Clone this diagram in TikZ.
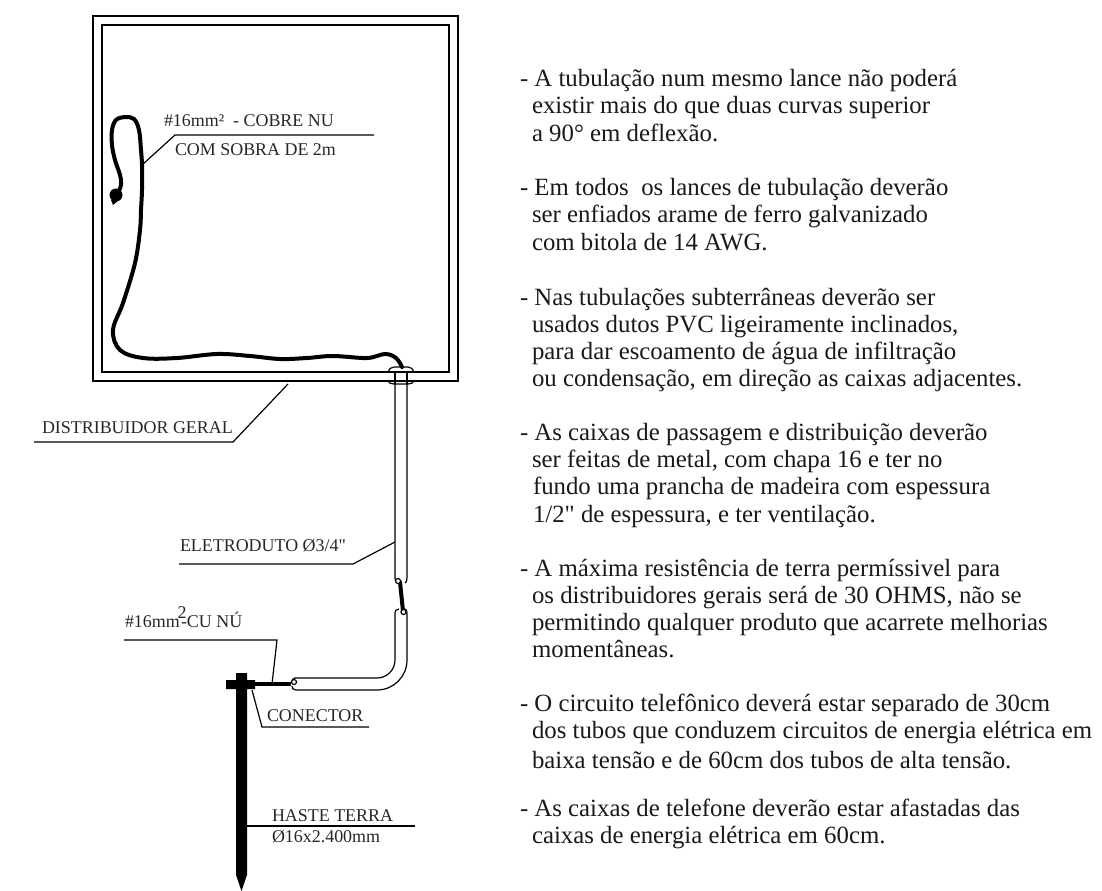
\documentclass[tikz,border=0pt]{standalone}
\usepackage{fontspec}
\setmainfont{Liberation Serif}[Ligatures=TeXOff]
\begin{document}
\begin{tikzpicture}[x=0.75pt,y=-0.75pt,
  line/.style={draw=black,line width=0.9pt},
  lead/.style={draw=black,line width=0.9pt},
  wire/.style={draw=black,line width=3pt,line cap=round,line join=round},
  lab/.style={anchor=base west,inner sep=0pt,outer sep=0pt,font=\fontsize{13.45pt}{15pt}\selectfont,text=black!85},
  note/.style={anchor=base west,inner sep=0pt,outer sep=0pt,font=\fontsize{18.6pt}{20pt}\selectfont,text=black!90}]
\useasboundingbox (0,0) rectangle (1102,891);
% boxes
\draw[line] (93,16) rectangle (458,381);
\draw[line] (102,25) rectangle (449,372);
% wire
\draw[wire] plot[smooth,tension=0.6] coordinates {(117,195)(121,185)(120,175)(115,160)(112,145)(112,130)(116,120)(125,117)(134,119)(139,130)(141,150)(142,165)(142,190)(141,210)(140,230)(135,263)(123,303)(113,330)(120,350)(143,358)(177,358)(217,354)(250,356)(280,359)(307,358)(333,356)(367,358)(385,354)(396,358)(402,367)};
\fill[black] (116,195) circle (6.5);
\fill[black] (111,200) -- (119,200) -- (113,205) -- cycle;
% clamp
\draw[line] (388,372) .. controls (389,369) and (391,367) .. (394,367) -- (408,367) .. controls (411,367) and (413,369) .. (414,372);
\draw[line] (388,381) .. controls (389,383) and (391,384) .. (394,384) -- (408,384) .. controls (411,384) and (413,383) .. (414,381);
\draw[line] (395,372) -- (395,384);
\draw[line] (407,372) -- (407,384);
% upper conduit
\draw[line] (395,384) -- (395,578) .. controls (395,581) and (396,583) .. (398,583);
\draw[line] (407,384) -- (407,578) .. controls (407,581) and (406,583) .. (405,583);
\draw[wire] (400,582) -- (403,611);
\draw[line,fill=white] (398,581) circle (2.5);
% lower conduit
\draw[line] (399,609) .. controls (396,609) and (395,611) .. (395,613) -- (395,660) arc (0:90:18) -- (295,678) .. controls (293,678) and (292,680) .. (292,682);
\draw[line] (405,609) .. controls (406,609) and (407,611) .. (407,613) -- (407,660) arc (0:90:30) -- (296,690) .. controls (293,690) and (292,688) .. (292,686);
\draw[line,fill=white] (403.5,612) circle (2.5);
% ground wire + rod
\draw[wire,line cap=butt] (291,684) -- (250,684);
\draw[line,fill=white] (294,682) circle (2.5);
\fill[black] (236,673) -- (247,673) -- (247,680) -- (255,680) -- (255,689) -- (247,689) -- (247,875) -- (241.5,891) -- (236,875) -- (236,689) -- (226,689) -- (226,680) -- (236,680) -- cycle;
% leaders
\draw[lead] (142,165) -- (175,135) -- (374,135);
\draw[lead] (395,542) -- (353,564) -- (179,564);
\draw[lead] (124,640) -- (277,640) -- (272,684);
\draw[lead] (252,690) -- (262,727) -- (369,727);
\draw[lead] (247,826) -- (415,826);
\draw[lead] (34,442) -- (233,442) -- (288,384);
% labels
\node[lab] (l1) at (164,127) {\#16mm²\ \ - COBRE NU};
\node[lab] (l2) at (175,156) {COM SOBRA DE 2m};
\node[lab] (l3) at (42,433) {DISTRIBUIDOR GERAL};
\node[lab] (l4) at (180,551) {ELETRODUTO Ø3/4"};
\node[lab] (l5a) at (125,627) {\#16mm};
\node[lab] (l5b) at (177.5,618) {2};
\node[lab] (l5c) at (181,627) {-CU NÚ};
\node[lab] (l6) at (267,721) {CONECTOR};
\node[lab] (l7) at (272,821) {HASTE TERRA};
\node[lab] (l8) at (272,842) {Ø16x2.400mm};
% notes
\node[note] (n1) at (520,87) {- A tubulação num mesmo lance não poderá};
\node[note] (n2) at (532,114) {existir mais do que duas curvas superior};
\node[note] (n3) at (532,142) {a 90° em deflexão.};
\node[note] (n4) at (520,196) {- Em todos\ \ os lances de tubulação deverão};
\node[note] (n5) at (532,223) {ser enfiados arame de ferro galvanizado};
\node[note] (n6) at (532,251) {com bitola de 14 AWG.};
\node[note] (n7) at (520,305) {- Nas tubulações subterrâneas deverão ser};
\node[note] (n8) at (532,332) {usados dutos PVC ligeiramente inclinados,};
\node[note] (n9) at (532,359) {para dar escoamento de água de infiltração};
\node[note] (n10) at (532,386) {ou condensação, em direção as caixas adjacentes.};
\node[note] (n11) at (520,440) {- As caixas de passagem e distribuição deverão};
\node[note] (n12) at (532,467) {ser feitas de metal, com chapa 16 e ter no};
\node[note] (n13) at (533,494) {fundo uma prancha de madeira com espessura};
\node[note] (n14) at (533,522) {1/2" de espessura, e ter ventilação.};
\node[note] (n15) at (520,576) {- A máxima resistência de terra permíssivel para};
\node[note] (n16) at (532,603) {os distribuidores gerais será de 30 OHMS, não se};
\node[note] (n17) at (532,630) {permitindo qualquer produto que acarrete melhorias};
\node[note] (n18) at (532,657) {momentâneas.};
\node[note] (n19) at (520,711) {- O circuito telefônico deverá estar separado de 30cm};
\node[note] (n20) at (532,738) {dos tubos que conduzem circuitos de energia elétrica em};
\node[note] (n21) at (532,768) {baixa tensão e de 60cm dos tubos de alta tensão.};
\node[note] (n22) at (520,816) {- As caixas de telefone deverão estar afastadas das};
\node[note] (n23) at (532,843) {caixas de energia elétrica em 60cm.};
\end{tikzpicture}
\end{document}
